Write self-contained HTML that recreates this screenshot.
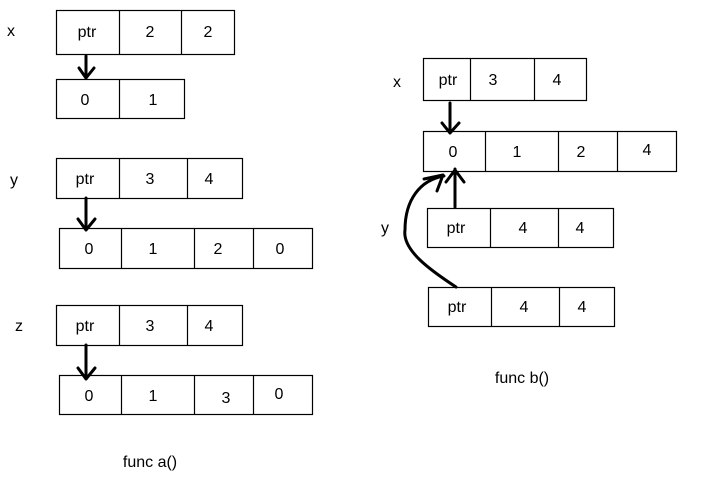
<!DOCTYPE html>
<html><head><style>body{margin:0;background:#fff}svg{display:block}text{font-family:"Liberation Sans",sans-serif;font-size:16px;fill:#000}</style></head><body>
<svg width="719" height="484" xmlns="http://www.w3.org/2000/svg">
<g fill="none" stroke="#000" stroke-width="1.2">
<rect x="56.5" y="10.5" width="178" height="44"/><path d="M119.5 10v45M181.5 10v45"/>
<rect x="56.5" y="79.5" width="128" height="39"/><path d="M119.5 79v40"/>
<rect x="56.5" y="158.5" width="186" height="40"/><path d="M119.5 158v41M187.5 158v41"/>
<rect x="59.5" y="228.5" width="253" height="40"/><path d="M121.5 228v41M194.5 228v41M253.5 228v41"/>
<rect x="56.5" y="305.5" width="186" height="40"/><path d="M119.5 305v41M187.5 305v41"/>
<rect x="59.5" y="375.5" width="253" height="39"/><path d="M121.5 375v40M194.5 375v40M253.5 375v40"/>
<rect x="423.5" y="58.5" width="163" height="42"/><path d="M470.5 58v43M534.5 58v43"/>
<rect x="423.5" y="131.5" width="253" height="40"/><path d="M485.5 131v41M558.5 131v41M617.5 131v41"/>
<rect x="427.5" y="208.5" width="186" height="39"/><path d="M490.5 208v40M558.5 208v40"/>
<rect x="428.5" y="287.5" width="186" height="39"/><path d="M491.5 287v40M559.5 287v40"/>
</g>
<g fill="none" stroke="#000" stroke-width="3" stroke-linecap="round" stroke-linejoin="round">
<path d="M86 56v21M79 68l7 10 8-10"/>
<path d="M86 198v30M78 219l8 11 9-11"/>
<path d="M86 345v33M78 368l8 11 9-11"/>
<path d="M450 103v30M442 123l8 10 9-10"/>
<path d="M455 207v-38M446 182l9-12 9 12"/>
<path d="M456 287C430 270 402 250 405 230C405 200 420 180 444 176M424 179l19-4-6 16"/>
</g>
<g text-anchor="middle">
<text x="87" y="37">ptr</text><text x="150" y="37">2</text><text x="208" y="37">2</text>
<text x="85" y="105">0</text><text x="153" y="105">1</text>
<text x="85" y="184">ptr</text><text x="150" y="184">3</text><text x="209" y="184">4</text>
<text x="89" y="254">0</text><text x="153" y="254">1</text><text x="218" y="254">2</text><text x="280" y="254">0</text>
<text x="85" y="331">ptr</text><text x="150" y="331">3</text><text x="209" y="331">4</text>
<text x="89" y="401">0</text><text x="153" y="401">1</text><text x="226" y="403">3</text><text x="279" y="399">0</text>
<text x="448" y="85">ptr</text><text x="493" y="85">3</text><text x="557" y="85">4</text>
<text x="453" y="157">0</text><text x="517" y="157">1</text><text x="581" y="157">2</text><text x="647" y="155">4</text>
<text x="456" y="233">ptr</text><text x="523" y="233">4</text><text x="580" y="233">4</text>
<text x="457" y="312">ptr</text><text x="524" y="312">4</text><text x="582" y="312">4</text>
<text x="150" y="467">func a()</text><text x="522" y="383">func b()</text>
</g>
<text x="7" y="36">x</text><text x="10" y="185">y</text><text x="15" y="331">z</text>
<text x="393" y="87">x</text><text x="381" y="233">y</text>
</svg>
</body></html>
